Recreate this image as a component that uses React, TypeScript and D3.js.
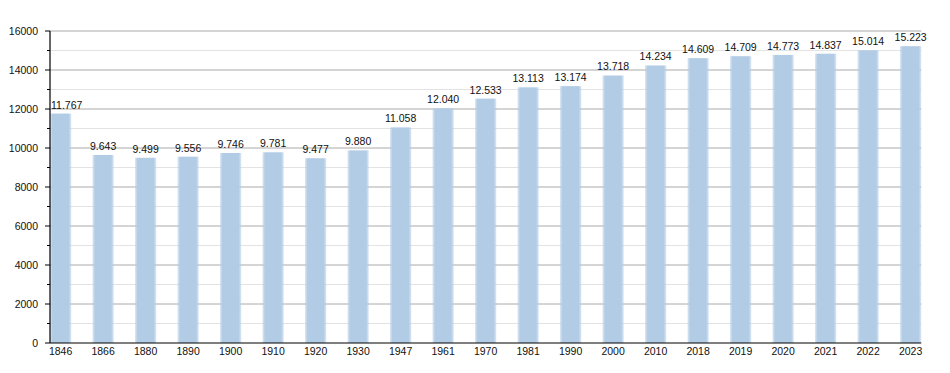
import React from "react";
import * as d3 from "d3";

const years = ["1846","1866","1880","1890","1900","1910","1920","1930","1947","1961","1970","1981","1990","2000","2010","2018","2019","2020","2021","2022","2023"];
const population = [11767,9643,9499,9556,9746,9781,9477,9880,11058,12040,12533,13113,13174,13718,14234,14609,14709,14773,14837,15014,15223];
const majorTicks = [0,2000,4000,6000,8000,10000,12000,14000,16000];
const minorTicks = [1000,3000,5000,7000,9000,11000,13000,15000];

function App() {
  const width = 950;
  const height = 373;
  const left = 50;
  const top = 31;
  const bottom = 343;
  const step = 42.5;

  // band scale: bars start at the axis, half-step gaps, no outer padding
  const x = d3.scaleBand<string>()
    .domain(years)
    .range([left, left + (years.length - 0.5) * step])
    .paddingInner(0.5)
    .paddingOuter(0);
  const y = d3.scaleLinear().domain([0, 16000]).range([bottom, top]);

  const axisEnd = (x(years[years.length - 1]) ?? 0) + x.bandwidth();
  const fmt = (v: number) => d3.format(",")(v).replace(/,/g, ".");
  const font = "'Liberation Sans', Arial, sans-serif";

  return (
    <svg width={width} height={height} style={{ display: "block", margin: "-8px" }} fontFamily={font}>
      <defs>
        <linearGradient id="barGrad" x1="0" x2="1" y1="0" y2="0">
          <stop offset="0" stopColor="#b3cce6" stopOpacity="0.45" />
          <stop offset="0.12" stopColor="#b3cce6" stopOpacity="1" />
          <stop offset="0.88" stopColor="#b3cce6" stopOpacity="1" />
          <stop offset="1" stopColor="#b3cce6" stopOpacity="0.45" />
        </linearGradient>
      </defs>
      <rect width={width} height={height} fill="#fff" />

      {/* grid */}
      {minorTicks.map(t => (
        <line key={"m" + t} x1={left} x2={axisEnd} y1={y(t)} y2={y(t)} stroke="#e3e3e3" strokeWidth={1} />
      ))}
      {majorTicks.filter(t => t > 0).map(t => (
        <line key={"g" + t} x1={left} x2={axisEnd} y1={y(t)} y2={y(t)} stroke="#aaaaaa" strokeWidth={1} />
      ))}

      {/* bars */}
      {years.map((yr, i) => (
        <rect key={yr} x={x(yr)} y={y(population[i])} width={x.bandwidth()} height={bottom - y(population[i])} fill="url(#barGrad)" />
      ))}

      {/* value labels (first one kept inside the plot) */}
      {years.map((yr, i) => (
        <text
          key={"v" + yr}
          x={i === 0 ? left + 1 : (x(yr) ?? 0) + x.bandwidth() / 2}
          y={y(population[i]) - 5}
          textAnchor={i === 0 ? "start" : "middle"}
          fontSize={10.5}
          fill="#111"
        >
          {fmt(population[i])}
        </text>
      ))}

      {/* y axis */}
      <line x1={left} x2={left} y1={top} y2={bottom} stroke="#000" strokeWidth={1.2} />
      {majorTicks.map(t => (
        <g key={"t" + t}>
          <line x1={left - 5} x2={left} y1={y(t)} y2={y(t)} stroke="#000" />
          <text x={38} y={y(t) + 4} textAnchor="end" fontSize={10.5} fill="#111">{t}</text>
        </g>
      ))}
      {minorTicks.map(t => (
        <line key={"mt" + t} x1={left - 3} x2={left} y1={y(t)} y2={y(t)} stroke="#000" />
      ))}

      {/* x axis */}
      <line x1={left} x2={axisEnd} y1={bottom} y2={bottom} stroke="#000" strokeWidth={1.2} />
      {years.map(yr => (
        <text key={"x" + yr} x={(x(yr) ?? 0) + x.bandwidth() / 2} y={bottom + 12} textAnchor="middle" fontSize={10.5} fill="#111">
          {yr}
        </text>
      ))}
    </svg>
  );
}

export default App;
